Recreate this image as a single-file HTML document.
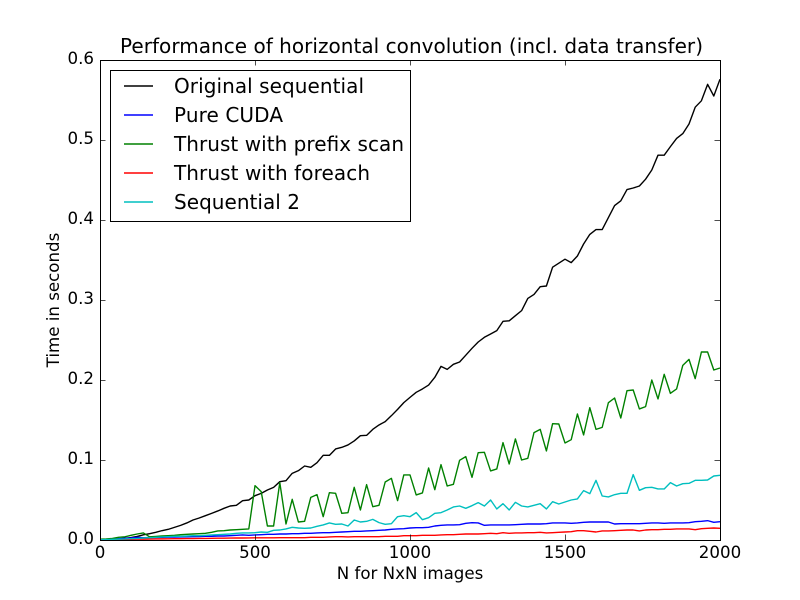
<!DOCTYPE html>
<html>
<head>
<meta charset="utf-8">
<title>Performance of horizontal convolution</title>
<style>
html,body{margin:0;padding:0;background:#fff;}
svg{display:block;font-family:"DejaVu Sans","Liberation Sans",sans-serif;fill:#000;}
</style>
</head>
<body>
<svg id="chart" width="800" height="600" viewBox="0 0 800 600" xmlns="http://www.w3.org/2000/svg">
  <rect x="0" y="0" width="800" height="600" fill="#ffffff"/>
  <rect x="100" y="60" width="620" height="480" fill="#ffffff"/>
  <defs><clipPath id="plot-clip"><rect x="100" y="60" width="620.5" height="480.5"/></clipPath></defs>
  <g id="series-layer" clip-path="url(#plot-clip)"></g>
  <g id="tick-layer"></g>
  <rect x="100.5" y="60.5" width="620" height="480" fill="none" stroke="#000" stroke-width="1"/>
  <text x="120" y="53" font-size="20" textLength="583" lengthAdjust="spacing">Performance of horizontal convolution (incl. data transfer)</text>
  <text x="410" y="579" font-size="16.67" text-anchor="middle">N for NxN images</text>
  <text transform="translate(59,300) rotate(-90)" font-size="16.67" text-anchor="middle">Time in seconds</text>
  <g id="legend">
    <rect x="110.5" y="70.5" width="300" height="151" fill="#ffffff" stroke="#000" stroke-width="1"/>
    <g>
      <line x1="124" x2="153" y1="86" y2="86" stroke="#000000" stroke-width="1.39"/>
      <text x="174" y="93" font-size="20" textLength="190" lengthAdjust="spacing">Original sequential</text>
    </g>
    <g>
      <line x1="124" x2="153" y1="115" y2="115" stroke="#0000ff" stroke-width="1.39"/>
      <text x="174" y="122" font-size="20" textLength="109" lengthAdjust="spacing">Pure CUDA</text>
    </g>
    <g>
      <line x1="124" x2="153" y1="144" y2="144" stroke="#008000" stroke-width="1.39"/>
      <text x="174" y="151" font-size="20" textLength="230" lengthAdjust="spacing">Thrust with prefix scan</text>
    </g>
    <g>
      <line x1="124" x2="153" y1="173" y2="173" stroke="#ff0000" stroke-width="1.39"/>
      <text x="174" y="180" font-size="20" textLength="196" lengthAdjust="spacing">Thrust with foreach</text>
    </g>
    <g>
      <line x1="124" x2="153" y1="202" y2="202" stroke="#00bfbf" stroke-width="1.39"/>
      <text x="174" y="209" font-size="20" textLength="126" lengthAdjust="spacing">Sequential 2</text>
    </g>
  </g>
</svg>
<script>
const imageSizes = [0,20,40,60,80,100,120,140,160,180,200,220,240,260,280,300,320,340,360,380,400,420,440,460,480,500,520,540,560,580,600,620,640,660,680,700,720,740,760,780,800,820,840,860,880,900,920,940,960,980,1000,1020,1040,1060,1080,1100,1120,1140,1160,1180,1200,1220,1240,1260,1280,1300,1320,1340,1360,1380,1400,1420,1440,1460,1480,1500,1520,1540,1560,1580,1600,1620,1640,1660,1680,1700,1720,1740,1760,1780,1800,1820,1840,1860,1880,1900,1920,1940,1960,1980,2000];
const originalSequential = [.0003,.0006,.001,.0015,.0022,.003,.0045,.0065,.0079,.0096,.0117,.0133,.0158,.0183,.0213,.025,.0275,.0304,.0333,.0363,.0396,.0425,.0433,.0492,.05,.0554,.0583,.0625,.0658,.0729,.0742,.0833,.0867,.0925,.0908,.0967,.1058,.1058,.1138,.1158,.1188,.1238,.1304,.1308,.1383,.1438,.148,.1554,.1633,.1717,.1783,.1846,.1888,.1937,.2033,.217,.2133,.2196,.2225,.231,.2396,.2475,.2534,.2575,.2617,.2733,.274,.2804,.2867,.302,.307,.3167,.3175,.341,.346,.351,.3467,.355,.37,.382,.388,.388,.403,.418,.424,.438,.44,.4425,.451,.4625,.481,.481,.4917,.502,.508,.52,.541,.549,.5696,.555,.576];
const pureCuda = [.0004,.0008,.0013,.0017,.0021,.0025,.0033,.0029,.003,.0031,.0033,.0035,.0037,.0038,.004,.0042,.0043,.0046,.0046,.005,.005,.0054,.0058,.0063,.0058,.0063,.0067,.0071,.0071,.0075,.0075,.0079,.0079,.0083,.0083,.0088,.0092,.0092,.0096,.01,.0104,.0108,.0108,.0113,.0117,.0121,.0125,.0133,.0138,.0142,.015,.0154,.0154,.0158,.0175,.0183,.0188,.0188,.0192,.0208,.0217,.0213,.0183,.0188,.0188,.0188,.0188,.0192,.0196,.02,.02,.02,.0204,.0213,.0213,.0213,.0208,.0213,.0221,.0225,.0225,.0225,.0225,.02,.0204,.0204,.0204,.0204,.0208,.0213,.0213,.0208,.0213,.0213,.0213,.0217,.0229,.0233,.0242,.0221,.0229];
const thrustPrefixScan = [.001,.0013,.002,.0033,.004,.0058,.0075,.0088,.004,.0045,.005,.0054,.0058,.0067,.0071,.0075,.0079,.0083,.0096,.0113,.0117,.0125,.0129,.0133,.0138,.0679,.0604,.0175,.0175,.0717,.02,.0508,.0225,.0233,.0533,.0567,.0292,.0592,.0583,.0333,.0342,.0658,.0375,.0692,.0417,.0433,.0725,.0771,.0492,.0813,.0813,.0563,.0588,.09,.0629,.0942,.0675,.0696,.0996,.1042,.0783,.1092,.1096,.0863,.0888,.1217,.095,.1263,.1,.1021,.1342,.1383,.1113,.1454,.145,.1213,.1254,.1575,.1313,.1654,.1383,.1408,.1717,.1775,.1525,.1867,.1875,.1638,.1667,.2,.1763,.2071,.1833,.1888,.2183,.2258,.2017,.235,.235,.2125,.215];
const thrustForeach = [.0002,.0003,.0005,.0006,.0008,.0009,.001,.0011,.0012,.0013,.0014,.0015,.0016,.0017,.0018,.0018,.0019,.002,.0021,.0022,.0023,.0024,.0025,.0025,.0026,.0027,.0027,.0028,.0028,.0029,.0029,.0029,.0029,.0029,.0033,.0033,.0033,.0038,.0042,.0042,.0038,.0042,.0042,.0042,.0042,.0042,.0046,.0046,.0046,.0054,.0054,.0054,.0058,.0058,.0058,.0063,.0067,.0067,.0071,.0075,.0075,.0075,.0079,.0083,.0079,.0092,.0083,.0088,.0088,.0092,.0092,.0096,.0088,.0092,.0096,.01,.0104,.0117,.0117,.0108,.01,.0113,.0113,.0117,.0121,.0125,.0125,.0113,.0125,.0129,.0129,.0133,.0133,.0138,.0138,.0138,.0129,.0142,.0146,.015,.0146];
const sequentialTwo = [.0003,.0005,.0008,.0011,.0013,.0017,.002,.0025,.0029,.0033,.0038,.0042,.0046,.0046,.005,.0054,.0054,.0058,.0063,.0067,.0071,.0075,.0083,.0088,.0088,.0092,.01,.0096,.0121,.0125,.0138,.0158,.015,.0146,.015,.0171,.0188,.0213,.0196,.02,.0175,.025,.0225,.0233,.0258,.0217,.0196,.0204,.0292,.0304,.0292,.0342,.0254,.0279,.0333,.0342,.0375,.0413,.0425,.0396,.0429,.0467,.0425,.05,.0388,.0454,.0375,.0471,.0425,.0413,.0433,.0454,.0388,.0479,.045,.0475,.05,.0513,.0617,.0579,.0746,.055,.0538,.0567,.0583,.0583,.0817,.0621,.0654,.0658,.0638,.0638,.0717,.0675,.0704,.0708,.0746,.0746,.075,.08,.0808];
const seriesNames = ["original-sequential","pure-cuda","thrust-prefix-scan","thrust-foreach","sequential-2"];
const seriesColors = ["#000000","#0000ff","#008000","#ff0000","#00bfbf"];
const seriesValues = [originalSequential,pureCuda,thrustPrefixScan,thrustForeach,sequentialTwo];
const xTickValues = [0,500,1000,1500,2000];
const xTickLabels = ["0","500","1000","1500","2000"];
const yTickValues = [0,0.1,0.2,0.3,0.4,0.5,0.6];
const yTickLabels = ["0.0","0.1","0.2","0.3","0.4","0.5","0.6"];

const NS = "http://www.w3.org/2000/svg";
const xScale = function (v) { return 100 + (v / 2000) * 620; };
const yScale = function (v) { return 540 - (v / 0.6) * 480; };

const seriesLayer = document.getElementById("series-layer");
seriesValues.forEach(function (values, s) {
  const line = document.createElementNS(NS, "polyline");
  
  
  line.setAttribute("points", values.map(function (v, i) {
    return xScale(imageSizes[i]).toFixed(2) + "," + yScale(v).toFixed(2);
  }).join(" "));
  line.setAttribute("fill", "none");
  line.setAttribute("stroke", seriesColors[s]);
  line.setAttribute("stroke-width", "1.39");
  line.setAttribute("stroke-linejoin", "round");
  seriesLayer.appendChild(line);
});

const tickLayer = document.getElementById("tick-layer");
function addTick(x1, y1, x2, y2) {
  const t = document.createElementNS(NS, "line");
  
  
  t.setAttribute("x1", x1);
  t.setAttribute("y1", y1);
  t.setAttribute("x2", x2);
  t.setAttribute("y2", y2);
  t.setAttribute("stroke", "#000");
  t.setAttribute("stroke-width", "0.7");
  tickLayer.appendChild(t);
}
function addLabel(x, y, anchor, text) {
  const t = document.createElementNS(NS, "text");
  
  
  t.setAttribute("x", x);
  t.setAttribute("y", y);
  t.setAttribute("text-anchor", anchor);
  t.setAttribute("font-size", "16.67");
  t.textContent = text;
  tickLayer.appendChild(t);
}
xTickValues.forEach(function (v, i) {
  const x = xScale(v) + 0.5;
  addTick(x, 540, x, 534.5);
  addTick(x, 60, x, 65.5);
  addLabel(x - 0.5, 558, "middle", xTickLabels[i]);
});
yTickValues.forEach(function (v, i) {
  const y = yScale(v) + 0.5;
  addTick(100, y, 105.5, y);
  addTick(720, y, 714.5, y);
  addLabel(94, y + 3.5, "end", yTickLabels[i]);
});
</script>
</body>
</html>
